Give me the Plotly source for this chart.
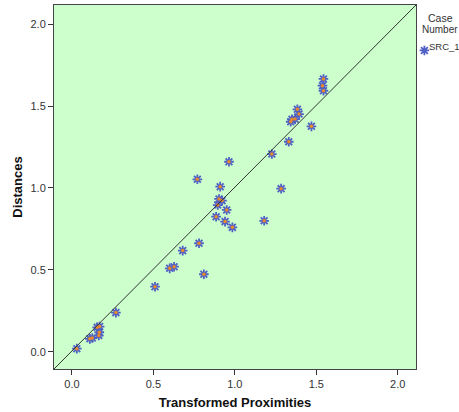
import plotly.graph_objects as go

transformed_proximities = [0.03, 0.11, 0.125, 0.155, 0.17, 0.168, 0.165, 0.27,
                           0.51, 0.60, 0.627, 0.68, 0.78, 0.81, 0.77,
                           0.964, 0.91, 0.903, 0.921, 0.895, 0.95, 0.885, 0.94, 0.985,
                           1.284, 1.18,
                           1.544, 1.538, 1.544, 1.384, 1.394, 1.37, 1.351, 1.343,
                           1.47, 1.331, 1.227]
distances = [0.02, 0.08, 0.085, 0.15, 0.155, 0.12, 0.10, 0.24,
             0.398, 0.51, 0.52, 0.618, 0.663, 0.474, 1.053,
             1.16, 1.008, 0.933, 0.923, 0.896, 0.866, 0.825, 0.795, 0.76,
             0.996, 0.80,
             1.665, 1.624, 1.593, 1.48, 1.451, 1.42, 1.419, 1.404,
             1.376, 1.282, 1.207]

x_ticks = [0.0, 0.5, 1.0, 1.5, 2.0]
y_ticks = [0.0, 0.5, 1.0, 1.5, 2.0]
tick_labels = ["0.0", "0.5", "1.0", "1.5", "2.0"]
series_name = "SRC_1"
legend_title_lines = ["Case", "Number"]

FONT = "Liberation Sans, Arial, sans-serif"

fig = go.Figure()
fig.add_trace(go.Scatter(
    x=transformed_proximities, y=distances, mode="markers", name=" ",
    hovertext=[series_name] * len(distances),
    marker=dict(symbol="asterisk-open", size=8, color="#4F5FC4",
                line=dict(width=1.8, color="#5566C8")),
))
fig.add_trace(go.Scatter(
    x=transformed_proximities, y=distances, mode="markers", showlegend=False,
    hoverinfo="skip",
    marker=dict(symbol="circle", size=3.5, color="#E8892C", line=dict(width=0)),
))

fig.add_shape(type="line", xref="paper", yref="paper", x0=0, y0=0, x1=1, y1=1,
              line=dict(color="#333333", width=1))

axis_common = dict(showline=True, linecolor="#444444", linewidth=1, mirror=True,
                   ticks="outside", ticklen=5, tickcolor="#333333", tickwidth=1,
                   showgrid=False, zeroline=False,
                   tickfont=dict(family=FONT, size=11, color="#333333"))

annotations = [
    dict(text=legend_title_lines[0], x=1.0663, y=0.964, xref="paper", yref="paper",
         xanchor="center", yanchor="middle", showarrow=False,
         font=dict(family=FONT, size=10.5, color="#333333")),
    dict(text=legend_title_lines[1], x=1.0663, y=0.934, xref="paper", yref="paper",
         xanchor="center", yanchor="middle", showarrow=False,
         font=dict(family=FONT, size=10, color="#333333")),
    dict(text=series_name, x=1.0304, y=0.885, xref="paper", yref="paper",
         xanchor="left", yanchor="middle", showarrow=False,
         font=dict(family=FONT, size=9.5, color="#333333")),
]

fig.update_layout(
    width=459, height=412,
    margin=dict(l=54, r=43, t=5, b=43, autoexpand=False),
    paper_bgcolor="white",
    plot_bgcolor="#CCFFCC",
    xaxis=dict(range=[-0.11, 2.112], tickvals=x_ticks, ticktext=tick_labels,
               title=dict(text="<b>Transformed Proximities</b>", standoff=8,
                          font=dict(family=FONT, size=13, color="#111111")),
               **axis_common),
    yaxis=dict(range=[-0.104, 2.116], tickvals=y_ticks, ticktext=tick_labels,
               title=dict(text="<b>Distances</b>", standoff=4,
                          font=dict(family=FONT, size=13, color="#111111")),
               **axis_common),
    legend=dict(x=0.968, y=0.915, xanchor="left", yanchor="top",
                font=dict(family=FONT, size=10, color="#333333"),
                bgcolor="rgba(0,0,0,0)", itemwidth=30, tracegroupgap=0),
    annotations=annotations,
    showlegend=True,
)

fig.write_html("out.html")
